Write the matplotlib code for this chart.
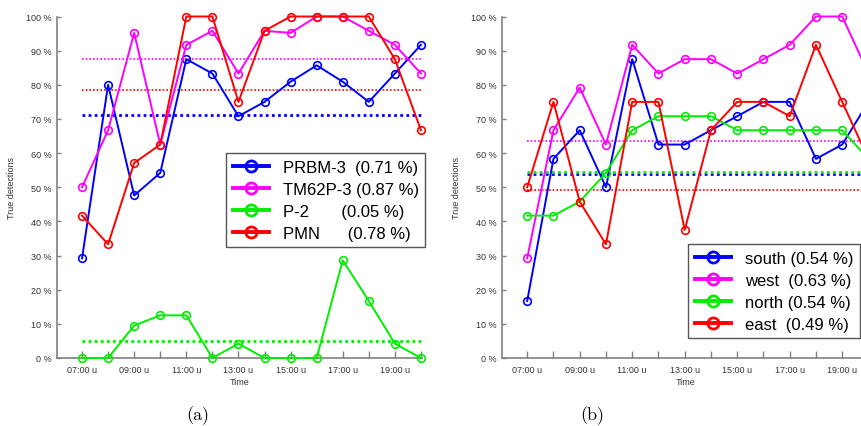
import matplotlib
matplotlib.use("Agg")
import matplotlib.pyplot as plt

plt.rcParams['font.family'] = ['Liberation Sans', 'DejaVu Sans']

hours = list(range(7, 21))
tick_labels = ["07:00 u", "", "09:00 u", "", "11:00 u", "", "13:00 u", "",
               "15:00 u", "", "17:00 u", "", "19:00 u", ""]

# panel (a): per camera
prbm = [29.2, 80.0, 47.6, 54.2, 87.5, 83.3, 70.8, 75.0, 80.9, 85.7, 80.9, 75.0, 83.3, 91.7]
tm62p = [50.0, 66.7, 95.2, 62.5, 91.7, 95.8, 83.3, 95.8, 95.2, 100, 100, 95.8, 91.7, 83.3]
p2 = [0, 0, 9.5, 12.5, 12.5, 0, 4.2, 0, 0, 0, 28.6, 16.7, 4.2, 0]
pmn = [41.7, 33.3, 57.1, 62.5, 100, 100, 75.0, 95.8, 100, 100, 100, 100, 87.5, 66.7]
means_a = [71.2, 87.5, 5.1, 78.4]
labels_a = ["PRBM-3  (0.71 %)", "TM62P-3 (0.87 %)", "P-2       (0.05 %)", "PMN      (0.78 %)"]

# panel (b): per direction
south = [16.7, 58.3, 66.7, 50.0, 87.5, 62.5, 62.5, 66.7, 70.8, 75.0, 75.0, 58.3, 62.5, 75.0]
west = [29.2, 66.7, 79.2, 62.5, 91.7, 83.3, 87.5, 87.5, 83.3, 87.5, 91.7, 100, 100, 83.3]
north = [41.7, 41.7, 45.8, 54.2, 66.7, 70.8, 70.8, 70.8, 66.7, 66.7, 66.7, 66.7, 66.7, 58.3]
east = [50.0, 75.0, 45.8, 33.3, 75.0, 75.0, 37.5, 66.7, 75.0, 75.0, 70.8, 91.7, 75.0, 58.3]
means_b = [54.0, 63.6, 54.6, 49.2]
labels_b = ["south (0.54 %)", "west  (0.63 %)", "north (0.54 %)", "east  (0.49 %)"]

colors = ["#0000ff", "#ff00ff", "#00ee00", "#ff0000"]
mean_lw = [2.0, 1.2, 2.0, 1.2]


def draw_panel(ax, series, means, labels, leg_anchor):
    for y, c, lab in zip(series, colors, labels):
        ax.plot(hours, y, color=c, lw=1.4, marker='o', ms=5.5, mfc='none',
                mew=1.2, label=lab, clip_on=False, zorder=3)
    for m, c, lw in zip(means, colors, mean_lw):
        ax.plot([hours[0], hours[-1]], [m, m], color=c, lw=lw, ls=(0, (1, 1.2)),
                zorder=2)
    ax.set_xlim(6.04, 20.04)
    ax.set_ylim(0, 100)
    ax.set_xticks(hours)
    ax.set_xticklabels(tick_labels)
    ax.set_yticks(range(0, 101, 10))
    ax.set_yticklabels(["%d %%" % v for v in range(0, 101, 10)])
    ax.spines['top'].set_visible(False)
    ax.spines['right'].set_visible(False)
    for s in ('left', 'bottom'):
        ax.spines[s].set_color('#808080')
        ax.spines[s].set_linewidth(1.2)
    ax.tick_params(axis='x', direction='in', length=5, width=1, color='#808080',
                   labelsize=6.5, labelcolor='#333333', pad=5)
    ax.tick_params(axis='y', direction='in', length=3, width=1, color='#808080',
                   labelsize=6.5, labelcolor='#333333', pad=4)
    ax.set_xlabel('Time', fontsize=6.5, color='#333333', labelpad=2)
    ax.set_ylabel('True detections', fontsize=6.5, color='#333333', labelpad=7)
    leg = ax.legend(loc='upper left', bbox_to_anchor=leg_anchor, fontsize=12,
                    handlelength=2.2, handletextpad=0.8, borderpad=0.4,
                    labelspacing=0.42, borderaxespad=0, fancybox=False,
                    framealpha=1, edgecolor='#555555')
    for h in leg.get_lines():
        h.set_linewidth(2.8)
        h.set_markersize(8)
        h.set_markeredgewidth(2)


fig = plt.figure(figsize=(8.61, 4.27), dpi=100)
ax1 = fig.add_axes([57 / 861, 68 / 427, 365 / 861, 341.5 / 427])
ax2 = fig.add_axes([502 / 861, 68 / 427, 367.5 / 861, 341.5 / 427])

draw_panel(ax1, [prbm, tm62p, p2, pmn], means_a, labels_a, (0.463, 0.600))
draw_panel(ax2, [south, west, north, east], means_b, labels_b, (0.506, 0.334))

fig.text(198 / 861, 1 - 416 / 427, "(a)", family='cmr10', fontsize=13,
         ha='center', va='center')
fig.text(592 / 861, 1 - 416 / 427, "(b)", family='cmr10', fontsize=13,
         ha='center', va='center')

fig.savefig("out.png", dpi=100)
